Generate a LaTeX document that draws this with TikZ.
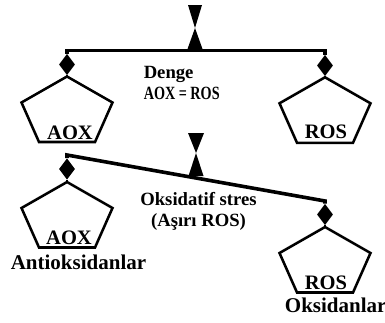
\documentclass[tikz,border=0pt]{standalone}
\usepackage{graphicx}
\usepackage{fontspec}
\setmainfont{Liberation Serif}
\usetikzlibrary{shapes.geometric,calc}
\tikzset{
  px/.style={x=0.75pt, y=-0.75pt},
  beam/.style={draw=black, line width=2.7pt, line join=miter},
  hang/.style={draw=black, line width=1.6pt},
  penta/.style={draw=black, line width=1.9pt, line join=miter},
  weight/.style={diamond, fill=black, inner sep=0pt,
                 minimum width=12pt, minimum height=16pt},
  pivot/.style={fill=black},
  inlbl/.style={font=\bfseries\fontsize{15.4}{16}\selectfont, inner sep=0pt},
  midlbl/.style={font=\bfseries\fontsize{14}{15.75}\selectfont, inner sep=0pt},
  sublbl/.style={font=\bfseries\fontsize{15.75}{18}\selectfont, inner sep=0pt},
}
\newcommand{\pentagon}[1]{%
  \draw[penta] (#1) -- ++(45.5,26) -- ++(-17.5,39.5) -- ++(-56,0)
    -- ++(-17.5,-39.5) -- cycle;}

\begin{document}
\begin{tikzpicture}[px]
\useasboundingbox (0,0) rectangle (385,322);

% ---- balance in equilibrium
\coordinate (P1) at (195,28);
\fill[pivot] (P1) -- ++(-7,-23) -- ++(14,0) -- cycle;
\fill[pivot] (P1) -- ++(-7.5,21) -- ++(15,0) -- cycle;
\node[weight] (WL1) at (67,64.5) {};
\node[weight] (WR1) at (325,65.5) {};
\coordinate (B1) at (195,50.5);
\draw[beam] (WL1.north) |- (B1) -| (WR1.north);

\coordinate (TL1) at (67,76.5);
\coordinate (TR1) at (325,77.3);
\draw[hang] (WL1.south) -- (TL1);
\draw[hang] (WR1.south) -- (TR1);
\pentagon{TL1}
\pentagon{TR1}
\node[inlbl] (AOX1) at (70,132.5) {AOX};
\node[inlbl] (ROS1) at (326,132) {ROS};

\node[midlbl, align=left, anchor=north west] (DENGE) at (143.5,66.5)
  {Denge\\\scalebox{0.76}[1]{AOX = ROS}};

% ---- balance tipped by oxidative stress
\coordinate (P2) at (196,153);
\fill[pivot] (P2) -- ++(-8,-20) -- ++(16,0) -- cycle;
\fill[pivot] (P2) -- ++(-7.5,23) -- ++(15,0) -- cycle;
\node[weight] (WL2) at (67,169) {};
\node[weight] (WR2) at (325,214.5) {};
\coordinate (BL2) at (67,155);
\coordinate (BR2) at (325,201);
\draw[beam] (WL2.north) -- (BL2) -- (BR2) -- (WR2.north);

\coordinate (TL2) at (67,182);
\coordinate (TR2) at (325,227);
\draw[hang] (WL2.south) -- (TL2);
\draw[hang] (WR2.south) -- (TR2);
\pentagon{TL2}
\pentagon{TR2}
\node[inlbl] (AOX2) at (69,237.5) {AOX};
\node[inlbl] (ROS2) at (326,283) {ROS};

\node[midlbl, align=center, anchor=north] (STRES) at (198.5,192)
  {Oksidatif stres\\(Aşırı ROS)};

\node[sublbl] (ANTI) at (78.5,262) {Antioksidanlar};
\node[sublbl] (OKSI) at (335.7,305) {Oksidanlar};

\end{tikzpicture}
\end{document}
